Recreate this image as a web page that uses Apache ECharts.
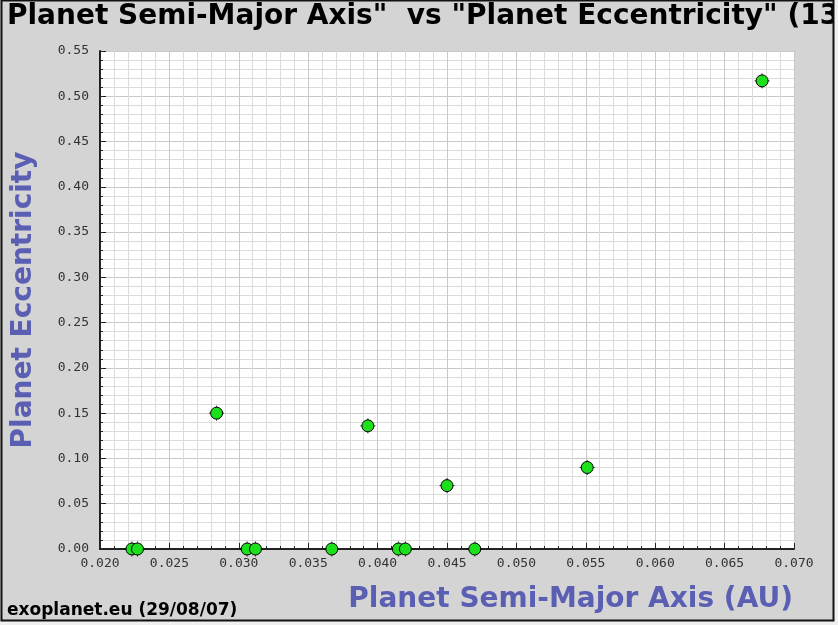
<!DOCTYPE html>
<html>
<head>
<meta charset="utf-8">
<script src="https://cdn.jsdelivr.net/npm/echarts@6/dist/echarts.min.js"></script>
<style>
html,body{margin:0;padding:0;background:#f0f0f0;}
#chart{width:838px;height:625px;}
</style>
</head>
<body>
<div id="chart"></div>
<script>
// Data
var semiMajorAxis = [0.0223, 0.0227, 0.0284, 0.0306, 0.0312, 0.0367, 0.0393, 0.0415, 0.0420, 0.0450, 0.0470, 0.0551, 0.0677];
var eccentricity  = [0.000,  0.000,  0.150,  0.000,  0.000,  0.000,  0.136,  0.000,  0.000,  0.070,  0.000,  0.090,  0.517];

var titleText = 'Planet Semi-Major Axis"  vs "Planet Eccentricity" (13';
var xAxisName = 'Planet Semi-Major Axis (AU)';
var yAxisName = 'Planet Eccentricity';
var footerText = 'exoplanet.eu (29/08/07)';

var xMin = 0.020, xMax = 0.070, xStep = 0.005;
var yMin = 0.00, yMax = 0.55, yStep = 0.05;

var points = semiMajorAxis.map(function (a, i) { return [a, eccentricity[i]]; });

var chart = echarts.init(document.getElementById('chart'), null, {renderer: 'canvas'});
var nameColor = '#5a5fb4';
var option = {
  backgroundColor: '#d4d4d4',
  animation: false,
  title: {
    text: titleText,
    left: 7, top: 3, padding: 0,
    textStyle: {fontFamily: 'DejaVu Sans', fontWeight: 'bold', fontSize: 28, color: '#000'}
  },
  grid: {
    left: 100, right: 44, top: 51, bottom: 76,
    containLabel: false, outerBoundsMode: 'none',
    show: true, backgroundColor: '#ffffff', borderWidth: 0
  },
  xAxis: {
    type: 'value', min: xMin, max: xMax, interval: xStep,
    name: xAxisName, nameLocation: 'end', nameGap: -1,
    nameTextStyle: {
      fontFamily: 'DejaVu Sans', fontWeight: 'bold', fontSize: 28, color: nameColor,
      align: 'right', verticalAlign: 'top', padding: [37, 0, 0, 0]
    },
    axisLine: {show: true, onZero: false, lineStyle: {color: '#222', width: 2}},
    axisTick: {show: true, inside: true, length: 6, lineStyle: {color: '#222', width: 1}},
    minorTick: {show: true, splitNumber: 5, length: 3, lineStyle: {color: '#222', width: 1}},
    splitLine: {show: true, lineStyle: {color: '#c8c8c8', width: 1}},
    minorSplitLine: {show: true, lineStyle: {color: '#dcdcdc', width: 1}},
    axisLabel: {
      margin: 8, color: '#333', fontFamily: 'DejaVu Sans Mono', fontSize: 13,
      formatter: function (v) { return v.toFixed(3); }
    }
  },
  yAxis: {
    type: 'value', min: yMin, max: yMax, interval: yStep,
    name: yAxisName, nameLocation: 'middle', nameGap: 62, nameRotate: 90,
    nameTextStyle: {fontFamily: 'DejaVu Sans', fontWeight: 'bold', fontSize: 28, color: nameColor,
                    padding: [0, 0, 0, 0]},
    axisLine: {show: true, lineStyle: {color: '#222', width: 2}},
    axisTick: {show: true, inside: true, length: 6, lineStyle: {color: '#222', width: 1}},
    minorTick: {show: true, splitNumber: 5, length: 3, lineStyle: {color: '#222', width: 1}},
    splitLine: {show: true, lineStyle: {color: '#c8c8c8', width: 1}},
    minorSplitLine: {show: true, lineStyle: {color: '#dcdcdc', width: 1}},
    axisLabel: {
      margin: 11, color: '#333', fontFamily: 'DejaVu Sans Mono', fontSize: 13,
      formatter: function (v) { return v.toFixed(2); }
    }
  },
  graphic: [
    {type: 'text', left: 7, top: 602, z: 10,
     style: {text: footerText, font: 'bold 17px "DejaVu Sans"', fill: '#000'}},
    {type: 'rect', shape: {x: 1.5, y: 0.5, width: 832, height: 620}, z: 20, silent: true,
     style: {fill: 'none', stroke: '#111', lineWidth: 2}},
    {type: 'rect', shape: {x: 834, y: 0, width: 10, height: 625}, z: 19, silent: true,
     style: {fill: '#f0f0f0'}},
    {type: 'rect', shape: {x: 0, y: 621, width: 838, height: 10}, z: 19, silent: true,
     style: {fill: '#f0f0f0'}}
  ],
  series: [
    {
      type: 'scatter', data: points, z: 2, silent: true,
      symbol: 'path://M8,0L8,16M0,8L16,8', symbolSize: 15,
      itemStyle: {color: 'none', borderColor: '#000', borderWidth: 1}
    },
    {
      type: 'scatter', data: points, z: 3, silent: true,
      symbol: 'circle', symbolSize: 12,
      itemStyle: {color: '#1be01b', borderColor: '#000', borderWidth: 1, opacity: 1}
    }
  ]
};
chart.setOption(option);
</script>
</body>
</html>
